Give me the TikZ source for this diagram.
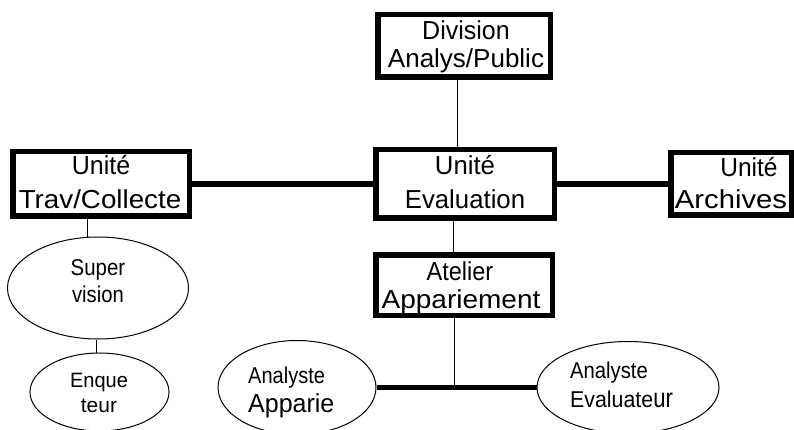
\documentclass[tikz,border=0pt]{standalone}
\usepackage{fontspec}
\setmainfont{Liberation Sans}
\usetikzlibrary{shapes.geometric}
\newcommand{\tx}[3]{{\fontsize{#1}{#1}\selectfont\scalebox{#2}[1.04]{#3}}}
\tikzset{
  unitbox/.style={draw=black, line width=5.5pt, rectangle, inner sep=0pt, fill=white},
  oval/.style={draw=black, line width=1pt, ellipse, inner sep=0pt},
  txt/.style={inner sep=0pt, anchor=base},
  txtl/.style={inner sep=0pt, anchor=base west},
  bus/.style={line width=5.5pt},
  thinline/.style={line width=1pt},
}
\begin{document}
\begin{tikzpicture}[x=1pt,y=-1pt]
\useasboundingbox (0,0) rectangle (794,430);
% coordinates for vertical connector positions
\coordinate (xdiv) at (457,0);
\coordinate (xate) at (453,0);
\coordinate (xbus) at (454,388);
\coordinate (xtrav) at (87,0);
\coordinate (xsup) at (96,0);
% ovals
\node[oval, minimum width=181pt, minimum height=102pt] (sup) at (98,288) {};
\node[oval, minimum width=139pt, minimum height=78pt] (enq) at (99.5,392) {};
\node[oval, minimum width=158pt, minimum height=94pt] (app) at (297,387.5) {};
\node[oval, minimum width=182pt, minimum height=92pt] (eva) at (628,387.5) {};
% boxes
\node[unitbox, minimum width=172.5pt, minimum height=62.5pt] (div) at (464,46) {};
\node[unitbox, minimum width=176.5pt, minimum height=64.5pt] (trav) at (101,184) {};
\node[unitbox, minimum width=178.5pt, minimum height=68.5pt] (eval) at (465,184) {};
\node[unitbox, minimum width=120.5pt, minimum height=62.5pt] (arch) at (731,184) {};
\node[unitbox, minimum width=176.5pt, minimum height=60.5pt] (ate) at (464,285) {};
% connectors
\draw[thinline] (div.south -| xdiv) -- (eval.north -| xdiv);
\draw[bus] (trav.east) -- (eval.west);
\draw[bus] (eval.east) -- (arch.west);
\draw[thinline] (eval.south -| xate) -- (ate.north -| xate);
\draw[thinline] (ate.south -| xbus) -- (xbus);
\draw[bus] (app.east) -- (eva.west);
\draw[thinline] (trav.south -| xtrav) -- (sup.north -| xtrav);
\draw[thinline] (sup.south -| xsup) -- (enq.north -| xsup);
% texts
\node[txt] (divA) at (466,40) {\tx{25}{1.0}{Division}};
\node[txt] (divB) at (466,68) {\tx{25}{1.04}{Analys/Public}};
\node[txt] (travA) at (101,175) {\tx{25}{1.0}{Unité}};
\node[txt] (travB) at (100,208) {\tx{25}{1.11}{Trav/Collecte}};
\node[txt] (evalA) at (465,175) {\tx{25}{1.03}{Unité}};
\node[txt] (evalB) at (465,208) {\tx{25}{1.03}{Evaluation}};
\node[txt] (archA) at (749,177) {\tx{25}{0.98}{Unité}};
\node[txt] (archB) at (731,208) {\tx{25}{1.17}{Archives}};
\node[txt] (ateA) at (460,280) {\tx{25}{0.94}{Atelier}};
\node[txt] (ateB) at (461,308) {\tx{25}{1.12}{Appariement}};
\node[txt] (supA) at (98,275) {\tx{22}{0.93}{Super}};
\node[txt] (supB) at (98,302) {\tx{22}{0.92}{vision}};
\node[txt] (enqA) at (99,387) {\tx{20}{1.0}{Enque}};
\node[txt] (enqB) at (99,412) {\tx{20}{1.05}{teur}};
\node[txtl] (appA) at (248,383) {\tx{22}{0.91}{Analyste}};
\node[txtl] (appB) at (248,412) {\tx{25}{1.0}{Apparie}};
\node[txtl] (evaA) at (570,378) {\tx{22}{0.92}{Analyste}};
\node[txtl] (evaB) at (570,407) {\tx{22}{0.97}{Evaluate}\tx{26}{0.85}{ur}};
\end{tikzpicture}
\end{document}
